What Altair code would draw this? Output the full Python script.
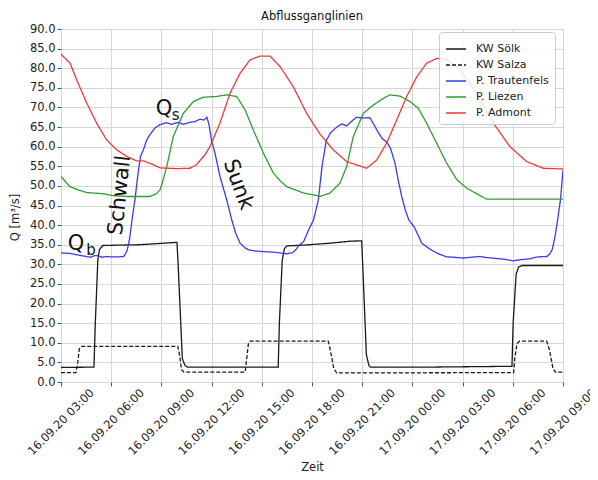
import altair as alt
import pandas as pd

# ---------------- data (hours counted from 16.09.2020 00:00) ----------------
series_names = ["KW Sölk", "KW Salza", "P. Trautenfels", "P. Liezen", "P. Admont"]
series_colors = ["#1a1a1a", "#1a1a1a", "#3b3bf0", "#2f9e2f", "#ee3a3a"]
series_dash = [[1, 0], [4, 2], [1, 0], [1, 0], [1, 0]]

soelk_h = [3.0, 4.97, 5.05, 5.2, 5.3, 5.5, 6.5, 7.7, 8.8, 9.93, 10.0, 10.25, 10.4, 10.55,
           13.0, 15.98, 16.05, 16.22, 16.35, 16.5, 17.5, 19.1, 20.3, 20.97, 21.03, 21.25,
           21.4, 21.5, 25.0, 29.95, 30.02, 30.2, 30.35, 30.55, 33.0]
soelk_q = [3.7, 3.8, 15.0, 31.0, 33.8, 34.8, 34.9, 35.0, 35.3, 35.6, 30.0, 6.0, 4.3, 3.8,
           3.8, 3.8, 15.0, 31.0, 34.0, 34.7, 34.9, 35.4, 35.9, 36.0, 30.0, 7.0,
           4.2, 3.8, 3.8, 4.0, 15.0, 27.5, 29.3, 29.7, 29.7]

salza_h = [3.0, 3.9, 4.0, 4.1, 4.25, 9.98, 10.08, 10.2, 10.35, 14.0, 14.1, 14.2, 14.3,
           18.97, 19.1, 19.3, 19.48, 30.05, 30.12, 30.25, 30.4, 32.03, 32.2, 32.4, 32.55, 33.0]
salza_q = [2.4, 2.4, 5.0, 8.5, 9.1, 9.1, 7.0, 3.2, 2.5, 2.5, 6.0, 9.8, 10.4,
           10.4, 8.0, 3.5, 2.3, 2.4, 6.0, 9.8, 10.4, 10.4, 8.0, 3.5, 2.5, 2.5]

traut_h = [3.0, 3.5, 4.0, 4.5, 4.75, 5.0, 5.2, 5.45, 5.7, 6.0, 6.4, 6.75, 6.95, 7.1, 7.25,
           7.42, 7.6, 7.75, 7.95, 8.1, 8.3, 8.6, 8.9, 9.3, 9.6, 10.0, 10.3, 10.7, 11.0,
           11.3, 11.55, 11.72, 11.85, 12.0, 12.2, 12.5, 12.9, 13.2, 13.45, 13.7, 14.0,
           14.2, 14.6, 14.9, 15.3, 15.7, 16.1, 16.5, 16.85, 17.05, 17.2, 17.5, 17.8, 18.1,
           18.38, 18.6, 18.85, 19.1, 19.3, 19.55, 19.8, 20.07, 20.35, 20.65, 21.0, 21.45,
           21.65, 21.87, 22.17, 22.5, 22.7, 22.96, 23.15, 23.36, 23.6, 23.8, 24.1, 24.3,
           24.56, 24.85, 25.15, 25.6, 26.05, 26.5, 27.0, 27.5, 28.0, 28.5, 29.0, 29.5,
           30.0, 30.5, 31.0, 31.5, 32.03, 32.2, 32.35, 32.5, 32.65, 32.85, 33.0]
traut_q = [32.9, 32.8, 32.4, 32.0, 31.8, 32.2, 32.2, 31.8, 32.0, 31.9, 31.9, 32.0, 33.5, 36.5, 41.5,
           46.5, 53.0, 57.5, 59.5, 61.5, 63.0, 64.7, 65.6, 66.1, 65.7, 66.2, 65.7, 66.2, 66.4,
           67.0, 66.8, 67.5, 65.5, 61.5, 58.4, 52.4, 46.5, 41.4, 37.8, 35.4, 34.2,
           33.7, 33.4, 33.3, 33.2, 33.1, 32.9, 32.7, 33.0, 33.8, 34.8, 35.8, 38.8, 41.4,
           46.5, 55.0, 61.5, 63.5, 64.3, 65.2, 65.8, 65.3, 66.4, 67.5, 67.3, 67.4,
           66.0, 64.3, 62.2, 61.0, 59.5, 55.8, 51.5, 47.3, 43.5, 41.2, 39.6, 37.8,
           35.4, 34.5, 33.6, 32.6, 31.9, 31.8, 31.6, 31.8, 32.0, 31.7, 31.5, 31.3,
           30.9, 31.2, 31.4, 31.9, 32.0, 32.6, 33.7, 36.5, 40.5, 46.5, 54.0]

liezen_h = [3.0, 3.54, 4.0, 4.54, 5.53, 6.13, 6.93, 8.32, 8.7, 8.92, 9.1, 9.32, 9.71, 10.31,
            10.91, 11.5, 12.3, 12.9, 13.5, 14.0, 14.49, 15.09, 15.69, 16.1, 16.49, 17.48,
            18.08, 18.48, 19.08, 19.67, 20.07, 20.47, 21.07, 21.66, 22.26, 22.66, 23.26,
            23.86, 24.35, 24.85, 25.45, 26.05, 26.65, 27.25, 27.84, 28.44, 30.0, 33.0]
liezen_q = [52.4, 49.8, 49.0, 48.3, 48.0, 47.5, 47.3, 47.3, 48.0, 49.0, 51.5, 54.9, 62.6, 68.5,
            71.5, 72.6, 72.8, 73.2, 72.8, 69.4, 64.3, 58.4, 53.3, 51.3, 49.8, 48.2,
            47.7, 47.3, 48.2, 50.7, 54.9, 62.6, 68.5, 70.6, 72.3, 73.2, 72.9,
            71.5, 69.8, 66.0, 60.9, 55.8, 51.6, 49.4, 48.0, 46.6, 46.6, 46.6]

admont_h = [3.0, 3.54, 3.94, 4.54, 5.13, 5.73, 6.33, 6.93, 7.5, 7.92, 8.52, 8.92, 9.91,
            10.71, 11.1, 11.31, 11.6, 11.9, 12.5, 13.1, 13.7, 14.29, 14.89, 15.49, 16.09,
            16.88, 17.68, 18.48, 19.27, 20.07, 21.27, 21.87, 22.46, 23.06, 23.66, 24.26,
            24.85, 25.45, 26.05, 26.85, 27.84, 28.84, 29.83, 30.83, 31.82, 33.0]
admont_q = [83.6, 81.3, 77.0, 71.1, 66.0, 61.7, 59.2, 57.5, 56.4, 56.4, 55.4, 54.6, 54.4,
            54.5, 55.4, 56.5, 57.9, 60.0, 66.0, 73.6, 78.7, 82.1, 83.1, 83.1, 80.4,
            75.3, 68.5, 63.2, 59.2, 56.2, 54.5, 56.6, 60.9, 66.8, 72.8, 77.8,
            81.3, 82.5, 82.3, 79.6, 73.6, 66.0, 60.0, 56.2, 54.5, 54.3]

# annotations
ann_text = ["Q", "s", "Q", "b", "Schwall", "Sunk"]
ann_h = [9.155, 9.855, 3.896, 4.793, 6.526, 13.58]
ann_q = [69.7, 68.0, 35.3, 33.6, 47.6, 50.3]
ann_size = [21, 15, 21, 15, 21, 21]
ann_angle = [0, 0, 0, 0, 276, 70]

x_tick_hours = [3, 6, 9, 12, 15, 18, 21, 24, 27, 30, 33]
y_tick_values = [0, 5, 10, 15, 20, 25, 30, 35, 40, 45, 50, 55, 60, 65, 70, 75, 80, 85, 90]

# ---------------- build tables ----------------
base = pd.Timestamp("2020-09-16 00:00")


def stamp(h):
    return (base + pd.Timedelta(hours=h)).strftime("%Y-%m-%dT%H:%M:%S")


def dt(h):
    t = base + pd.Timedelta(hours=h)
    return alt.DateTime(year=t.year, month=t.month, date=t.day, hours=t.hour, minutes=t.minute)


frames = []
for name, hs, qs in [("KW Sölk", soelk_h, soelk_q), ("KW Salza", salza_h, salza_q),
                     ("P. Trautenfels", traut_h, traut_q), ("P. Liezen", liezen_h, liezen_q),
                     ("P. Admont", admont_h, admont_q)]:
    frames.append(pd.DataFrame({"Zeit": [stamp(h) for h in hs], "Q": qs, "Serie": name,
                                "ord": series_names.index(name)}))
df = pd.concat(frames, ignore_index=True)

ann_df = pd.DataFrame({"Zeit": [stamp(h) for h in ann_h], "Q": ann_q, "txt": ann_text,
                       "fs": ann_size, "ang": ann_angle})

FONT = "DejaVu Sans"

x_scale = alt.Scale(domain=[dt(3), dt(33)], nice=False)
y_scale = alt.Scale(domain=[0, 90], nice=False)

x_axis = alt.Axis(values=[dt(h) for h in x_tick_hours], format="%d.%m.%y %H:%M",
                  labelAngle=315, labelAlign="center", labelBaseline="middle",
                  labelPadding=36, labelOverlap=False, labelFlush=False,
                  title="Zeit", titleY=85, titleBaseline="middle")
y_axis = alt.Axis(values=y_tick_values, format=".1f", title="Q [m³/s]",
                  titleX=-46, titleY=188, titleAngle=270, titleAlign="center",
                  titleBaseline="middle", labelPadding=2, labelOverlap=False,
                  labelFlush=False)

legend_cfg = dict(title=None, orient="none", legendX=378, legendY=3, symbolType="stroke",
                  symbolSize=400, symbolStrokeWidth=1.5, labelFont=FONT, labelFontSize=11,
                  labelColor="#222222", padding=6, rowPadding=0, labelOffset=9,
                  strokeColor="#cccccc", fillColor="rgba(255,255,255,0.85)", cornerRadius=3)

lines = alt.Chart(df).mark_line(strokeWidth=1.3, clip=True).encode(
    x=alt.X("Zeit:T", scale=x_scale, axis=x_axis),
    y=alt.Y("Q:Q", scale=y_scale, axis=y_axis),
    color=alt.Color("Serie:N", scale=alt.Scale(domain=series_names, range=series_colors),
                    legend=alt.Legend(**legend_cfg)),
    strokeDash=alt.StrokeDash("Serie:N", scale=alt.Scale(domain=series_names, range=series_dash),
                              legend=alt.Legend(**legend_cfg)),
    detail="Serie:N",
    order=alt.Order("ord:Q"),
)

ann = alt.Chart(ann_df).mark_text(font=FONT, color="#111111", align="center",
                                  baseline="middle").encode(
    x=alt.X("Zeit:T", scale=x_scale, axis=x_axis),
    y=alt.Y("Q:Q", scale=y_scale, axis=y_axis),
    text="txt:N",
    size=alt.Size("fs:Q", scale=None),
    angle=alt.Angle("ang:Q", scale=None),
)

chart = alt.layer(lines, ann).properties(
    width=502, height=353,
    title=alt.TitleParams("Abflussganglinien", font=FONT, fontSize=11.5, fontWeight="normal",
                          color="#111111", anchor="middle", frame="group", offset=5,
                          baseline="bottom", dy=15),
    autosize=alt.AutoSizeParams(type="none"),
    padding={"left": 53, "top": 21, "right": 27, "bottom": 90},
).configure_axis(
    labelFont=FONT, labelFontSize=11.5, labelColor="#222222",
    titleFont=FONT, titleFontSize=11.5, titleFontWeight="normal", titleColor="#222222",
    grid=True, gridColor="#d6d6d6", gridWidth=1,
    tickColor="#555555", tickSize=4, domain=False,
).configure_view(stroke="#666666", strokeWidth=1)

chart.save("out.html", embed_options={"renderer": "svg", "actions": False})
